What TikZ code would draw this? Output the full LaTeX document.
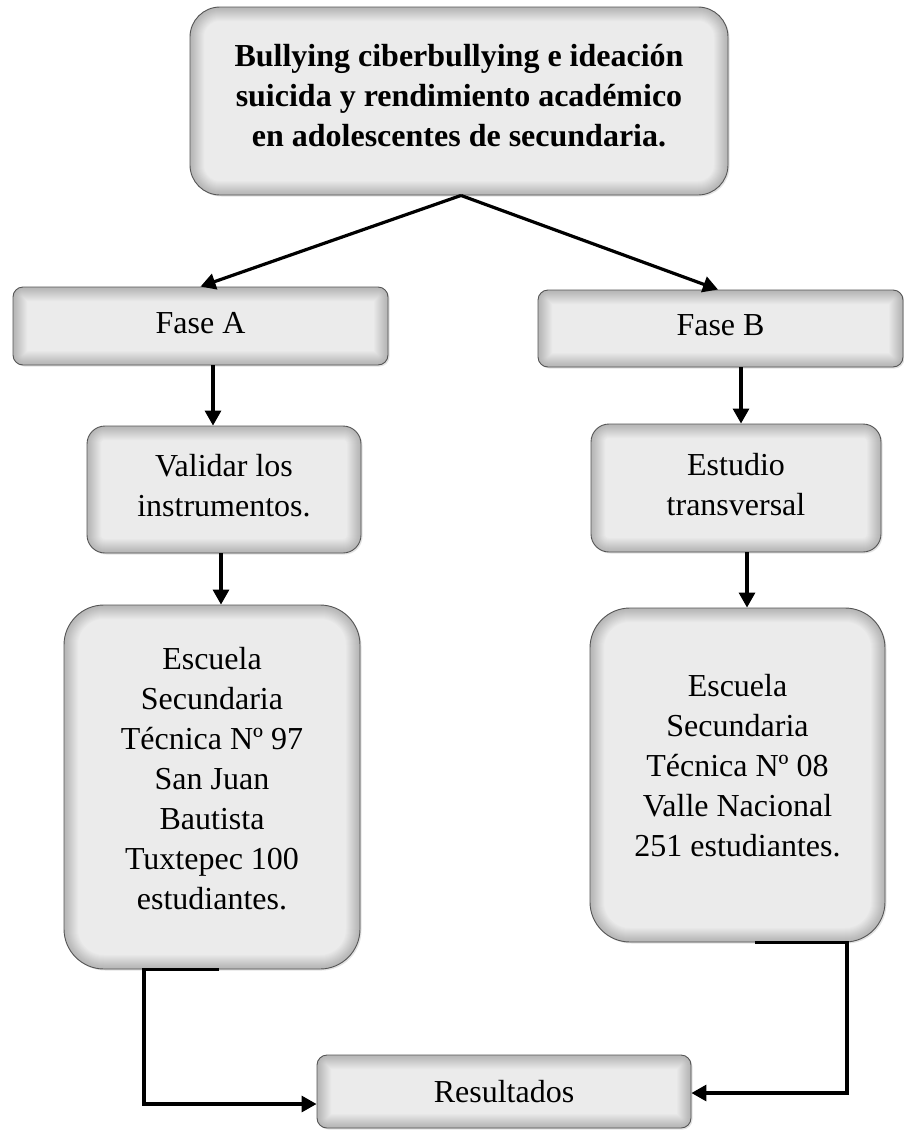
\documentclass[tikz,border=0pt]{standalone}
\usepackage{fontspec}
\setmainfont{Liberation Serif}
\usetikzlibrary{arrows.meta,shadows}
\definecolor{boxfill}{HTML}{EBEBEB}
\definecolor{boxline}{HTML}{555555}
\begin{document}
\begin{tikzpicture}[x=1pt,y=-1pt,
  gbox/.style={draw=boxline, line width=0.9pt, fill=boxfill, rounded corners=#1,
    align=center, inner sep=0pt, font=\fontsize{32}{40}\selectfont,
    drop shadow={shadow xshift=1.5pt, shadow yshift=-1.5pt, opacity=0.22},
    path picture={\foreach \w in {2,4,...,28}{\draw[rounded corners=#1, line width=\w pt, black, opacity=0.014] (path picture bounding box.south west) rectangle (path picture bounding box.north east);}}},
  arr/.style={line width=3.2pt, -{Triangle[length=15pt,width=16pt]}}
]
\useasboundingbox (0,0) rectangle (904,1130);
\fill[white] (0,0) rectangle (904,1130);

\node[gbox=30, minimum width=538pt, minimum height=188pt, text depth=12pt,
  font=\bfseries\fontsize{32}{40}\selectfont] (title) at (459,101)
  {Bullying ciberbullying e ideación\\suicida y rendimiento académico\\en adolescentes de secundaria.};
\node[gbox=10, minimum width=375pt, minimum height=78pt, text depth=7pt] (faseA) at (200.5,326) {Fase A};
\node[gbox=10, minimum width=365pt, minimum height=77pt, text depth=7pt] (faseB) at (720.5,328.5) {Fase B};
\node[gbox=18, minimum width=274pt, minimum height=127pt, text depth=8pt] (validar) at (224,489.5) {Validar los\\instrumentos.};
\node[gbox=18, minimum width=290pt, minimum height=128pt, text depth=8pt] (estudio) at (736,488) {Estudio\\transversal};
\node[gbox=40, minimum width=296pt, minimum height=364pt, text depth=18pt] (escA) at (212,787)
  {Escuela\\Secundaria\\Técnica Nº 97\\San Juan\\Bautista\\Tuxtepec 100\\estudiantes.};
\node[gbox=40, minimum width=295pt, minimum height=334pt, text depth=20pt] (escB) at (737.5,775)
  {Escuela\\Secundaria\\Técnica Nº 08\\Valle Nacional\\251 estudiantes.};
\node[gbox=10, minimum width=374pt, minimum height=73pt] (res) at (504,1091.5) {Resultados};

\coordinate (xa1) at (213,0);
\coordinate (xa2) at (221,0);
\coordinate (xb1) at (741,0);
\coordinate (xb2) at (747,0);
\coordinate (la) at (219,0);
\coordinate (lb) at (144,0);
\coordinate (ly) at (0,1104);
\coordinate (ra) at (755,0);
\coordinate (rb) at (847,0);
\coordinate (ry) at (0,1093);

\draw[arr] ([xshift=2pt]title.south) -- (faseA.north);
\draw[arr] ([xshift=2pt]title.south) -- ([xshift=-2.5pt]faseB.north);
\draw[arr] (faseA.south -| xa1) -- (validar.north -| xa1);
\draw[arr] (validar.south -| xa2) -- (escA.north -| xa2);
\draw[arr] (faseB.south -| xb1) -- (estudio.north -| xb1);
\draw[arr] (estudio.south -| xb2) -- (escB.north -| xb2);
\draw[arr] (escA.south -| la) -- (escA.south -| lb) |- (res.west |- ly);
\draw[arr] (escB.south -| ra) -- (escB.south -| rb) |- (res.east |- ry);
\end{tikzpicture}
\end{document}
